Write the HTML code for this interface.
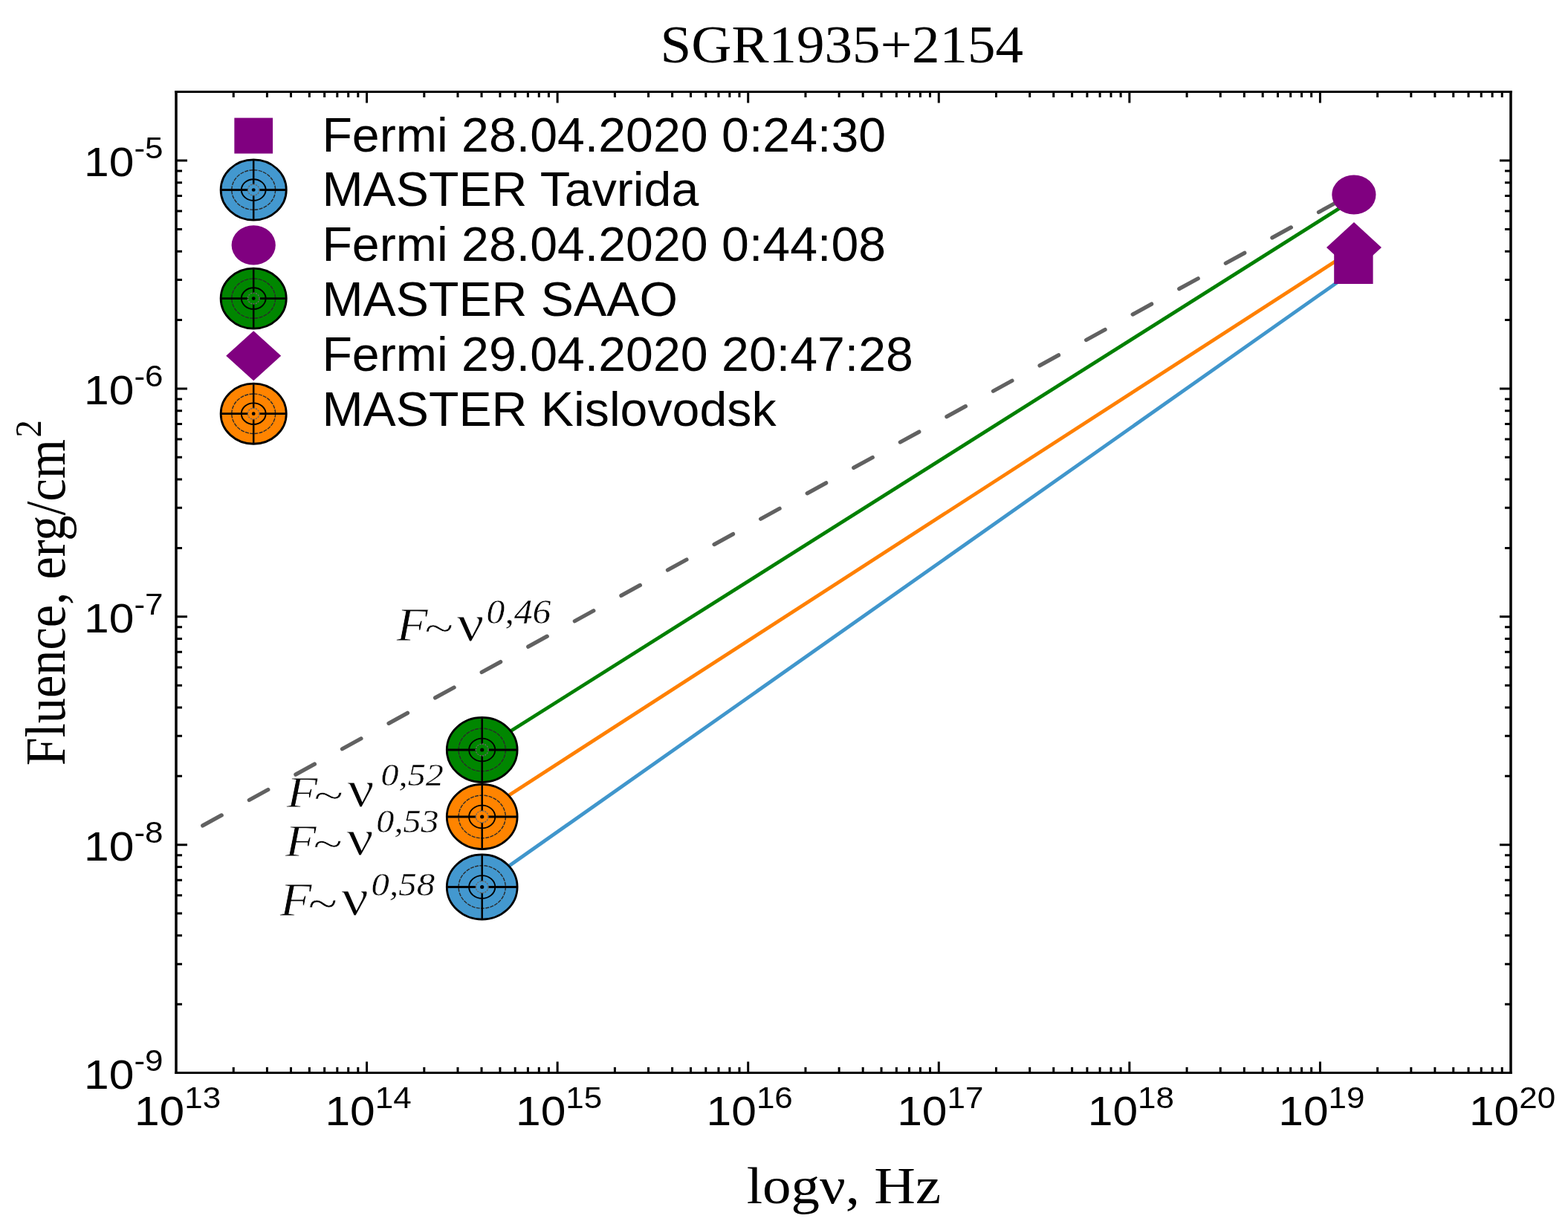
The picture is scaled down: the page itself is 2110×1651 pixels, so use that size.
<!DOCTYPE html>
<html><head><meta charset="utf-8"><title>SGR1935+2154</title>
<style>html,body{margin:0;padding:0;background:#fff;overflow:hidden}svg{display:block}</style>
</head><body>
<svg width="2110" height="1651" viewBox="0 0 2110 1651"><text transform="translate(1132.80,84.00) scale(1.043,1)" font-family="Liberation Serif, Times New Roman, serif" font-size="72" text-anchor="middle" >SGR1935+2154</text>
<path d="M314.24 1443.50v-7.5M314.24 123.50v7.5M359.42 1443.50v-7.5M359.42 123.50v7.5M391.47 1443.50v-7.5M391.47 123.50v7.5M416.34 1443.50v-7.5M416.34 123.50v7.5M436.65 1443.50v-7.5M436.65 123.50v7.5M453.83 1443.50v-7.5M453.83 123.50v7.5M468.71 1443.50v-7.5M468.71 123.50v7.5M481.83 1443.50v-7.5M481.83 123.50v7.5M493.57 1443.50v-15M493.57 123.50v15M570.81 1443.50v-7.5M570.81 123.50v7.5M615.99 1443.50v-7.5M615.99 123.50v7.5M648.04 1443.50v-7.5M648.04 123.50v7.5M672.91 1443.50v-7.5M672.91 123.50v7.5M693.22 1443.50v-7.5M693.22 123.50v7.5M710.40 1443.50v-7.5M710.40 123.50v7.5M725.28 1443.50v-7.5M725.28 123.50v7.5M738.40 1443.50v-7.5M738.40 123.50v7.5M750.14 1443.50v-15M750.14 123.50v15M827.38 1443.50v-7.5M827.38 123.50v7.5M872.56 1443.50v-7.5M872.56 123.50v7.5M904.61 1443.50v-7.5M904.61 123.50v7.5M929.48 1443.50v-7.5M929.48 123.50v7.5M949.79 1443.50v-7.5M949.79 123.50v7.5M966.97 1443.50v-7.5M966.97 123.50v7.5M981.85 1443.50v-7.5M981.85 123.50v7.5M994.97 1443.50v-7.5M994.97 123.50v7.5M1006.71 1443.50v-15M1006.71 123.50v15M1083.95 1443.50v-7.5M1083.95 123.50v7.5M1129.13 1443.50v-7.5M1129.13 123.50v7.5M1161.19 1443.50v-7.5M1161.19 123.50v7.5M1186.05 1443.50v-7.5M1186.05 123.50v7.5M1206.37 1443.50v-7.5M1206.37 123.50v7.5M1223.54 1443.50v-7.5M1223.54 123.50v7.5M1238.42 1443.50v-7.5M1238.42 123.50v7.5M1251.55 1443.50v-7.5M1251.55 123.50v7.5M1263.29 1443.50v-15M1263.29 123.50v15M1340.52 1443.50v-7.5M1340.52 123.50v7.5M1385.70 1443.50v-7.5M1385.70 123.50v7.5M1417.76 1443.50v-7.5M1417.76 123.50v7.5M1442.62 1443.50v-7.5M1442.62 123.50v7.5M1462.94 1443.50v-7.5M1462.94 123.50v7.5M1480.11 1443.50v-7.5M1480.11 123.50v7.5M1494.99 1443.50v-7.5M1494.99 123.50v7.5M1508.12 1443.50v-7.5M1508.12 123.50v7.5M1519.86 1443.50v-15M1519.86 123.50v15M1597.09 1443.50v-7.5M1597.09 123.50v7.5M1642.27 1443.50v-7.5M1642.27 123.50v7.5M1674.33 1443.50v-7.5M1674.33 123.50v7.5M1699.19 1443.50v-7.5M1699.19 123.50v7.5M1719.51 1443.50v-7.5M1719.51 123.50v7.5M1736.69 1443.50v-7.5M1736.69 123.50v7.5M1751.56 1443.50v-7.5M1751.56 123.50v7.5M1764.69 1443.50v-7.5M1764.69 123.50v7.5M1776.43 1443.50v-15M1776.43 123.50v15M1853.66 1443.50v-7.5M1853.66 123.50v7.5M1898.84 1443.50v-7.5M1898.84 123.50v7.5M1930.90 1443.50v-7.5M1930.90 123.50v7.5M1955.76 1443.50v-7.5M1955.76 123.50v7.5M1976.08 1443.50v-7.5M1976.08 123.50v7.5M1993.26 1443.50v-7.5M1993.26 123.50v7.5M2008.14 1443.50v-7.5M2008.14 123.50v7.5M2021.26 1443.50v-7.5M2021.26 123.50v7.5M237.00 1351.21h8M2033.00 1351.21h-8M237.00 1297.17h8M2033.00 1297.17h-8M237.00 1258.83h8M2033.00 1258.83h-8M237.00 1229.09h8M2033.00 1229.09h-8M237.00 1204.79h8M2033.00 1204.79h-8M237.00 1184.24h8M2033.00 1184.24h-8M237.00 1166.44h8M2033.00 1166.44h-8M237.00 1150.74h8M2033.00 1150.74h-8M237.00 1136.70h15M2033.00 1136.70h-15M237.00 1044.31h8M2033.00 1044.31h-8M237.00 990.27h8M2033.00 990.27h-8M237.00 951.93h8M2033.00 951.93h-8M237.00 922.19h8M2033.00 922.19h-8M237.00 897.89h8M2033.00 897.89h-8M237.00 877.34h8M2033.00 877.34h-8M237.00 859.54h8M2033.00 859.54h-8M237.00 843.84h8M2033.00 843.84h-8M237.00 829.80h15M2033.00 829.80h-15M237.00 737.41h8M2033.00 737.41h-8M237.00 683.37h8M2033.00 683.37h-8M237.00 645.03h8M2033.00 645.03h-8M237.00 615.29h8M2033.00 615.29h-8M237.00 590.99h8M2033.00 590.99h-8M237.00 570.44h8M2033.00 570.44h-8M237.00 552.64h8M2033.00 552.64h-8M237.00 536.94h8M2033.00 536.94h-8M237.00 522.90h15M2033.00 522.90h-15M237.00 430.51h8M2033.00 430.51h-8M237.00 376.47h8M2033.00 376.47h-8M237.00 338.13h8M2033.00 338.13h-8M237.00 308.39h8M2033.00 308.39h-8M237.00 284.09h8M2033.00 284.09h-8M237.00 263.54h8M2033.00 263.54h-8M237.00 245.74h8M2033.00 245.74h-8M237.00 230.04h8M2033.00 230.04h-8M237.00 216.00h15M2033.00 216.00h-15M237.00 123.61h8M2033.00 123.61h-8" stroke="#000" stroke-width="3" fill="none"/>
<path d="M237.0 122.0V1445.0M2033.0 122.0V1445.0" stroke="#000" stroke-width="3.5" fill="none"/>
<path d="M235.25 123.5H2034.75M235.25 1443.5H2034.75" stroke="#000" stroke-width="3" fill="none"/>
<text transform="translate(239.00,1514) scale(1.1,1)" font-family="Liberation Sans, Arial, sans-serif" font-size="55" text-anchor="middle">10<tspan dy="-23" font-size="40">13</tspan></text>
<text transform="translate(495.57,1514) scale(1.1,1)" font-family="Liberation Sans, Arial, sans-serif" font-size="55" text-anchor="middle">10<tspan dy="-23" font-size="40">14</tspan></text>
<text transform="translate(752.14,1514) scale(1.1,1)" font-family="Liberation Sans, Arial, sans-serif" font-size="55" text-anchor="middle">10<tspan dy="-23" font-size="40">15</tspan></text>
<text transform="translate(1008.71,1514) scale(1.1,1)" font-family="Liberation Sans, Arial, sans-serif" font-size="55" text-anchor="middle">10<tspan dy="-23" font-size="40">16</tspan></text>
<text transform="translate(1265.29,1514) scale(1.1,1)" font-family="Liberation Sans, Arial, sans-serif" font-size="55" text-anchor="middle">10<tspan dy="-23" font-size="40">17</tspan></text>
<text transform="translate(1521.86,1514) scale(1.1,1)" font-family="Liberation Sans, Arial, sans-serif" font-size="55" text-anchor="middle">10<tspan dy="-23" font-size="40">18</tspan></text>
<text transform="translate(1778.43,1514) scale(1.1,1)" font-family="Liberation Sans, Arial, sans-serif" font-size="55" text-anchor="middle">10<tspan dy="-23" font-size="40">19</tspan></text>
<text transform="translate(2035.00,1514) scale(1.1,1)" font-family="Liberation Sans, Arial, sans-serif" font-size="55" text-anchor="middle">10<tspan dy="-23" font-size="40">20</tspan></text>
<text transform="translate(219.5,1464.60) scale(1.1,1)" font-family="Liberation Sans, Arial, sans-serif" font-size="55" text-anchor="end">10<tspan dy="-24" font-size="40">-9</tspan></text>
<text transform="translate(219.5,1157.70) scale(1.1,1)" font-family="Liberation Sans, Arial, sans-serif" font-size="55" text-anchor="end">10<tspan dy="-24" font-size="40">-8</tspan></text>
<text transform="translate(219.5,850.80) scale(1.1,1)" font-family="Liberation Sans, Arial, sans-serif" font-size="55" text-anchor="end">10<tspan dy="-24" font-size="40">-7</tspan></text>
<text transform="translate(219.5,543.90) scale(1.1,1)" font-family="Liberation Sans, Arial, sans-serif" font-size="55" text-anchor="end">10<tspan dy="-24" font-size="40">-6</tspan></text>
<text transform="translate(219.5,237.00) scale(1.1,1)" font-family="Liberation Sans, Arial, sans-serif" font-size="55" text-anchor="end">10<tspan dy="-24" font-size="40">-5</tspan></text>
<text transform="translate(1135.4,1619) scale(1.1,1)" font-family="Liberation Serif, Times New Roman, serif" font-size="70" text-anchor="middle">log&#957;, Hz</text>
<text transform="translate(87,1030.3) rotate(-90) scale(1,1.1)" font-family="Liberation Serif, Times New Roman, serif" font-size="68.4">Fluence, erg/cm</text>
<text transform="translate(55.4,588.5) rotate(-90) scale(1,1.1)" font-family="Liberation Serif, Times New Roman, serif" font-size="46.6">2</text>
<text transform="translate(533.47,862.30) scale(0.6917,0.6307)" font-family="Liberation Serif, Times New Roman, serif" font-size="100" font-style="italic" stroke="#fff" stroke-width="1.21" fill="#000">F</text>
<text transform="translate(571.51,863.13) scale(0.7143,0.5358)" font-family="Liberation Serif, Times New Roman, serif" font-size="100" stroke="#fff" stroke-width="1.12" fill="#000">~</text>
<text transform="translate(614.80,861.92) scale(0.8140,0.6933)" font-family="Liberation Serif, Times New Roman, serif" font-size="100" stroke="#fff" stroke-width="1.33" fill="#000">&#957;</text>
<text transform="translate(654.59,838.96) scale(0.4963,0.4580)" font-family="Liberation Serif, Times New Roman, serif" font-size="100" font-style="italic" stroke="#fff" stroke-width="0.84" fill="#000">0,46</text>
<text transform="translate(385.77,1086.00) scale(0.6821,0.6002)" font-family="Liberation Serif, Times New Roman, serif" font-size="100" font-style="italic" stroke="#fff" stroke-width="1.25" fill="#000">F</text>
<text transform="translate(422.57,1087.00) scale(0.7288,0.5060)" font-family="Liberation Serif, Times New Roman, serif" font-size="100" stroke="#fff" stroke-width="1.13" fill="#000">~</text>
<text transform="translate(467.60,1085.31) scale(0.8000,0.7040)" font-family="Liberation Serif, Times New Roman, serif" font-size="100" stroke="#fff" stroke-width="1.33" fill="#000">&#957;</text>
<text transform="translate(512.54,1057.39) scale(0.4818,0.4164)" font-family="Liberation Serif, Times New Roman, serif" font-size="100" font-style="italic" stroke="#fff" stroke-width="0.89" fill="#000">0,52</text>
<text transform="translate(383.77,1151.70) scale(0.6869,0.6170)" font-family="Liberation Serif, Times New Roman, serif" font-size="100" font-style="italic" stroke="#fff" stroke-width="1.23" fill="#000">F</text>
<text transform="translate(421.48,1151.50) scale(0.7267,0.5060)" font-family="Liberation Serif, Times New Roman, serif" font-size="100" stroke="#fff" stroke-width="1.14" fill="#000">~</text>
<text transform="translate(466.50,1150.44) scale(0.8000,0.6805)" font-family="Liberation Serif, Times New Roman, serif" font-size="100" stroke="#fff" stroke-width="1.35" fill="#000">&#957;</text>
<text transform="translate(506.34,1119.67) scale(0.4819,0.4506)" font-family="Liberation Serif, Times New Roman, serif" font-size="100" font-style="italic" stroke="#fff" stroke-width="0.86" fill="#000">0,53</text>
<text transform="translate(376.78,1232.10) scale(0.7013,0.6246)" font-family="Liberation Serif, Times New Roman, serif" font-size="100" font-style="italic" stroke="#fff" stroke-width="1.21" fill="#000">F</text>
<text transform="translate(414.78,1234.71) scale(0.7267,0.5715)" font-family="Liberation Serif, Times New Roman, serif" font-size="100" stroke="#fff" stroke-width="1.08" fill="#000">~</text>
<text transform="translate(459.20,1231.41) scale(0.8140,0.7040)" font-family="Liberation Serif, Times New Roman, serif" font-size="100" stroke="#fff" stroke-width="1.32" fill="#000">&#957;</text>
<text transform="translate(499.62,1205.25) scale(0.4882,0.4519)" font-family="Liberation Serif, Times New Roman, serif" font-size="100" font-style="italic" stroke="#fff" stroke-width="0.85" fill="#000">0,58</text>
<line x1="272.78" y1="1110.89" x2="1800" y2="271.5" stroke="#616161" stroke-width="5.3" stroke-linecap="round" stroke-dasharray="29 42.4"/>
<line x1="648.7" y1="1190.8" x2="1821.4" y2="364.5" stroke="#4096cc" stroke-width="4.8"/>
<line x1="648.7" y1="1093.4" x2="1822" y2="335.4" stroke="#ff8000" stroke-width="4.8"/>
<line x1="648.7" y1="1008.0" x2="1821.9" y2="268.0" stroke="#008000" stroke-width="4.8"/>
<ellipse cx="648.7" cy="1009.0" rx="47.40" ry="43.60" fill="#008600" stroke="#000" stroke-width="2.8"/><ellipse cx="648.7" cy="1009.0" rx="31.60" ry="28.80" fill="none" stroke="#2a2a2a" stroke-width="1.4" stroke-dasharray="5 1.3"/><ellipse cx="648.7" cy="1009.0" rx="17.60" ry="15.40" fill="none" stroke="#000" stroke-width="1.9"/><path d="M648.7 965.40V1052.60" stroke="#000" stroke-width="2.5"/><path d="M601.30 1009.0H696.10" stroke="#000" stroke-width="2.8"/><ellipse cx="648.7" cy="1009.0" rx="8.40" ry="8.00" fill="#008600" stroke="#666" stroke-width="1.4" stroke-dasharray="2.2 1.3"/><ellipse cx="648.7" cy="1009.0" rx="2.60" ry="2.50" fill="#000"/>
<ellipse cx="648.7" cy="1099.0" rx="47.40" ry="43.60" fill="#ff8400" stroke="#000" stroke-width="2.8"/><ellipse cx="648.7" cy="1099.0" rx="31.60" ry="28.80" fill="none" stroke="#2a2a2a" stroke-width="1.4" stroke-dasharray="5 1.3"/><ellipse cx="648.7" cy="1099.0" rx="17.60" ry="15.40" fill="none" stroke="#000" stroke-width="1.9"/><path d="M648.7 1055.40V1142.60" stroke="#000" stroke-width="2.5"/><path d="M601.30 1099.0H696.10" stroke="#000" stroke-width="2.8"/><ellipse cx="648.7" cy="1099.0" rx="8.40" ry="8.00" fill="#ff8400" stroke="#666" stroke-width="1.4" stroke-dasharray="2.2 1.3"/><ellipse cx="648.7" cy="1099.0" rx="2.60" ry="2.50" fill="#000"/>
<ellipse cx="648.7" cy="1193.5" rx="47.40" ry="43.60" fill="#4398cf" stroke="#000" stroke-width="2.8"/><ellipse cx="648.7" cy="1193.5" rx="31.60" ry="28.80" fill="none" stroke="#2a2a2a" stroke-width="1.4" stroke-dasharray="5 1.3"/><ellipse cx="648.7" cy="1193.5" rx="17.60" ry="15.40" fill="none" stroke="#000" stroke-width="1.9"/><path d="M648.7 1149.90V1237.10" stroke="#000" stroke-width="2.5"/><path d="M601.30 1193.5H696.10" stroke="#000" stroke-width="2.8"/><ellipse cx="648.7" cy="1193.5" rx="8.40" ry="8.00" fill="#4398cf" stroke="#666" stroke-width="1.4" stroke-dasharray="2.2 1.3"/><ellipse cx="648.7" cy="1193.5" rx="2.60" ry="2.50" fill="#000"/>
<ellipse cx="1821.9" cy="262.0" rx="29.6" ry="26.6" fill="#800080"/>
<path d="M1822.0 299.0L1859.0 333.0L1822.0 367.0L1785.0 333.0Z" fill="#800080"/>
<rect x="1795.20" y="332.00" width="52.4" height="50" fill="#800080"/>
<rect x="315.35" y="158.60" width="51.7" height="48" fill="#800080"/>
<ellipse cx="341.2" cy="255.5" rx="44.08" ry="40.55" fill="#4398cf" stroke="#000" stroke-width="2.8"/><ellipse cx="341.2" cy="255.5" rx="29.39" ry="26.78" fill="none" stroke="#2a2a2a" stroke-width="1.4" stroke-dasharray="5 1.3"/><ellipse cx="341.2" cy="255.5" rx="16.37" ry="14.32" fill="none" stroke="#000" stroke-width="1.9"/><path d="M341.2 214.95V296.05" stroke="#000" stroke-width="2.5"/><path d="M297.12 255.5H385.28" stroke="#000" stroke-width="2.8"/><ellipse cx="341.2" cy="255.5" rx="7.81" ry="7.44" fill="#4398cf" stroke="#666" stroke-width="1.4" stroke-dasharray="2.2 1.3"/><ellipse cx="341.2" cy="255.5" rx="2.42" ry="2.33" fill="#000"/>
<ellipse cx="341.2" cy="329.9" rx="29.6" ry="26.6" fill="#800080"/>
<ellipse cx="341.2" cy="401.6" rx="44.08" ry="40.55" fill="#008600" stroke="#000" stroke-width="2.8"/><ellipse cx="341.2" cy="401.6" rx="29.39" ry="26.78" fill="none" stroke="#2a2a2a" stroke-width="1.4" stroke-dasharray="5 1.3"/><ellipse cx="341.2" cy="401.6" rx="16.37" ry="14.32" fill="none" stroke="#000" stroke-width="1.9"/><path d="M341.2 361.05V442.15" stroke="#000" stroke-width="2.5"/><path d="M297.12 401.6H385.28" stroke="#000" stroke-width="2.8"/><ellipse cx="341.2" cy="401.6" rx="7.81" ry="7.44" fill="#008600" stroke="#666" stroke-width="1.4" stroke-dasharray="2.2 1.3"/><ellipse cx="341.2" cy="401.6" rx="2.42" ry="2.33" fill="#000"/>
<path d="M341.2 445.3L378.2 478.8L341.2 512.3L304.2 478.8Z" fill="#800080"/>
<ellipse cx="341.2" cy="556.7" rx="44.08" ry="40.55" fill="#ff8400" stroke="#000" stroke-width="2.8"/><ellipse cx="341.2" cy="556.7" rx="29.39" ry="26.78" fill="none" stroke="#2a2a2a" stroke-width="1.4" stroke-dasharray="5 1.3"/><ellipse cx="341.2" cy="556.7" rx="16.37" ry="14.32" fill="none" stroke="#000" stroke-width="1.9"/><path d="M341.2 516.15V597.25" stroke="#000" stroke-width="2.5"/><path d="M297.12 556.7H385.28" stroke="#000" stroke-width="2.8"/><ellipse cx="341.2" cy="556.7" rx="7.81" ry="7.44" fill="#ff8400" stroke="#666" stroke-width="1.4" stroke-dasharray="2.2 1.3"/><ellipse cx="341.2" cy="556.7" rx="2.42" ry="2.33" fill="#000"/>
<text transform="translate(433.4,203.5) scale(1.055,1.03)" font-family="Liberation Sans, Arial, sans-serif" font-size="62.8">Fermi 28.04.2020 0:24:30</text>
<text transform="translate(433.4,276.5) scale(1.055,1.03)" font-family="Liberation Sans, Arial, sans-serif" font-size="62.8">MASTER Tavrida</text>
<text transform="translate(433.4,351.2) scale(1.055,1.03)" font-family="Liberation Sans, Arial, sans-serif" font-size="62.8">Fermi 28.04.2020 0:44:08</text>
<text transform="translate(433.4,424.5) scale(1.055,1.03)" font-family="Liberation Sans, Arial, sans-serif" font-size="62.8">MASTER SAAO</text>
<text transform="translate(433.4,499.0) scale(1.055,1.03)" font-family="Liberation Sans, Arial, sans-serif" font-size="62.8">Fermi 29.04.2020 20:47:28</text>
<text transform="translate(433.4,573.0) scale(1.055,1.03)" font-family="Liberation Sans, Arial, sans-serif" font-size="62.8">MASTER Kislovodsk</text></svg>
</body></html>
